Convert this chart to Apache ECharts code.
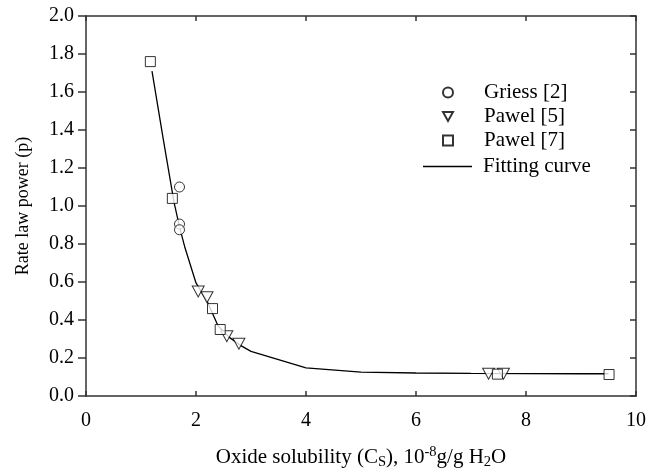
<!DOCTYPE html>
<html>
<head>
<meta charset="utf-8">
<script src="https://cdn.jsdelivr.net/npm/echarts@6/dist/echarts.min.js"></script>
<style>
  html, body { margin: 0; padding: 0; background: #fff; }
  #chart { width: 662px; height: 472px; }
</style>
</head>
<body>
<div id="chart"></div>
<script>
// measured points, x = oxide solubility, y = rate law power
const griess2 = [[1.70, 1.10], [1.70, 0.905], [1.70, 0.875]]
const pawel5 = [[2.04, 0.55], [2.20, 0.52], [2.56, 0.315], [2.78, 0.275], [7.32, 0.117], [7.59, 0.117]]
const pawel7 = [[1.17, 1.76], [1.57, 1.04], [2.30, 0.46], [2.44, 0.35], [7.48, 0.115], [9.51, 0.113]]

// fitting curve
const fitX = [1.2, 1.4, 1.6, 1.7, 1.8, 2.0, 2.2, 2.4, 2.6, 2.8, 3.0, 4.0, 5.0, 6.0, 7.0, 8.0, 9.0, 9.5]
const fitY = [1.71, 1.36, 1.02, 0.89, 0.78, 0.595, 0.50, 0.37, 0.31, 0.268, 0.235, 0.148, 0.126, 0.121, 0.119, 0.118, 0.117, 0.117]

const xTicks = [0, 2, 4, 6, 8, 10]
const yTicks = [0, 0.2, 0.4, 0.6, 0.8, 1.0, 1.2, 1.4, 1.6, 1.8, 2.0]

const FONT = 'Liberation Serif'
const AXIS = '#333'
const DOWN_TRIANGLE = 'path://M0,0L20,0L10,18Z'

const chart = echarts.init(document.getElementById('chart'))

const markerStyle = { color: '#fff', borderColor: '#000', borderWidth: 1 }

const xBase = {
  type: 'value',
  min: xTicks[0],
  max: xTicks[xTicks.length - 1],
  interval: 2,
  axisLine: { show: true, onZero: false, lineStyle: { color: AXIS, width: 1.5 } },
  axisTick: { show: true, inside: true, length: 5, lineStyle: { color: AXIS, width: 1.5 } },
  splitLine: { show: false },
}
const yBase = {
  type: 'value',
  min: yTicks[0],
  max: yTicks[yTicks.length - 1],
  interval: 0.2,
  axisLine: { show: true, onZero: false, lineStyle: { color: AXIS, width: 1.5 } },
  splitLine: { show: false },
}

chart.setOption({
  animation: false,
  textStyle: { fontFamily: FONT },
  grid: { left: 86, right: 26, top: 16, bottom: 76, outerBoundsMode: 'none' },
  legend: [
    {
      orient: 'vertical',
      left: 442,
      top: 82,
      padding: 0,
      itemWidth: 10,
      itemHeight: 10,
      itemGap: 3,
      textStyle: { fontFamily: FONT, fontSize: 21, color: '#000', padding: [0, 0, 0, 26] },
      data: [
        { name: 'Griess [2]', icon: 'circle' },
        { name: 'Pawel [5]', icon: DOWN_TRIANGLE },
        { name: 'Pawel [7]', icon: 'rect' },
      ],
    },
    {
      orient: 'vertical',
      left: 423,
      top: 156,
      padding: 0,
      itemWidth: 49,
      itemHeight: 1.3,
      textStyle: { fontFamily: FONT, fontSize: 21, color: '#000', padding: [0, 0, 0, 6] },
      data: [{ name: 'Fitting curve', icon: 'rect' }],
    },
  ],
  xAxis: [
    {
      ...xBase,
      position: 'bottom',
      axisLabel: { color: '#000', fontSize: 20, fontFamily: FONT, margin: 15 },
      name: '{a|Oxide solubility (C}{sub|S}{a|), 10}{sup|-8}{a|g/g H}{sub|2}{a|O}',
      nameLocation: 'middle',
      nameGap: 49,
      nameTextStyle: {
        rich: {
          a: { fontFamily: FONT, fontSize: 21, color: '#000' },
          sub: { fontFamily: FONT, fontSize: 14.5, color: '#000', padding: [10, 0, 0, 0] },
          sup: { fontFamily: FONT, fontSize: 14.5, color: '#000', padding: [0, 0, 10, 0] },
        },
      },
    },
    { ...xBase, position: 'top', axisLabel: { show: false } },
  ],
  yAxis: [
    {
      ...yBase,
      position: 'left',
      axisTick: { show: true, inside: false, length: 8, lineStyle: { color: AXIS, width: 1.5 } },
      axisLabel: {
        color: '#000', fontSize: 20, fontFamily: FONT, margin: 12,
        formatter: v => v.toFixed(1),
      },
      name: 'Rate law power (p)',
      nameLocation: 'middle',
      nameGap: 54,
      nameTextStyle: { fontFamily: FONT, fontSize: 18, color: '#000' },
    },
    {
      ...yBase,
      position: 'right',
      axisTick: { show: true, inside: true, length: 6, lineStyle: { color: AXIS, width: 1.5 } },
      axisLabel: { show: false },
    },
  ],
  series: [
    {
      name: 'Fitting curve',
      type: 'line',
      data: fitX.map((x, i) => [x, fitY[i]]),
      symbol: 'none',
      smooth: false,
      lineStyle: { color: '#000', width: 1.3 },
      itemStyle: { color: '#000' },
      z: 1,
    },
    {
      name: 'Griess [2]',
      type: 'scatter',
      data: griess2,
      symbol: 'circle',
      symbolSize: 10,
      itemStyle: markerStyle,
      z: 3,
    },
    {
      name: 'Pawel [5]',
      type: 'scatter',
      data: pawel5,
      symbol: DOWN_TRIANGLE,
      symbolSize: [12, 11],
      itemStyle: markerStyle,
      z: 3,
    },
    {
      name: 'Pawel [7]',
      type: 'scatter',
      data: pawel7,
      symbol: 'rect',
      symbolSize: 10,
      itemStyle: markerStyle,
      z: 3,
    },
  ],
})
</script>
</body>
</html>
